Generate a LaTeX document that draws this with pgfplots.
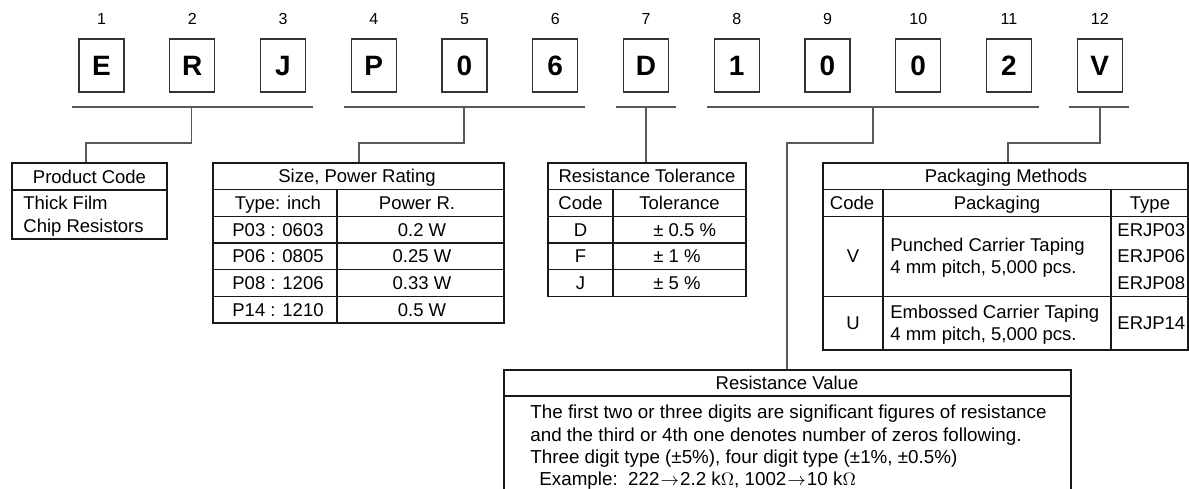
\documentclass[border=0pt]{standalone}
\usepackage{fontspec}
\setmainfont{Liberation Sans}
\usepackage{pgfplots}
\pgfplotsset{compat=1.18}
\pgfplotsset{
  tb/.style={black!90, line width=0.65pt, mark=none, line cap=rect, line join=miter},
  bx/.style={black!80, line width=0.65pt, mark=none, line cap=rect, line join=miter},
  cn/.style={black!65, line width=0.65pt, mark=none},
}
\newcommand{\tf}{\fontsize{9.25pt}{11pt}\selectfont}
\newcommand{\rf}{\fontsize{9.4pt}{11pt}\selectfont}
\newcommand{\nf}{\fontsize{8pt}{10pt}\selectfont}
\newcommand{\bigf}{\fontsize{14pt}{16pt}\selectfont\bfseries}
\newcommand{\ar}{\kern0.5pt$\rightarrow$\kern0.5pt}
\begin{document}
\begin{tikzpicture}
\begin{axis}[width=594.5pt,height=244pt,scale only axis,
  xmin=0,xmax=1189,ymin=0,ymax=488,y dir=reverse,
  hide axis,clip=false]
\addplot[draw=none] coordinates {(0,0) (1189,488)};
% code boxes
\addplot[bx] coordinates {(79,39) (124,39) (124,92) (79,92) (79,39)};
\addplot[bx] coordinates {(169.75,39) (214.75,39) (214.75,92) (169.75,92) (169.75,39)};
\addplot[bx] coordinates {(260.5,39) (305.5,39) (305.5,92) (260.5,92) (260.5,39)};
\addplot[bx] coordinates {(351.25,39) (396.25,39) (396.25,92) (351.25,92) (351.25,39)};
\addplot[bx] coordinates {(442,39) (487,39) (487,92) (442,92) (442,39)};
\addplot[bx] coordinates {(532.75,39) (577.75,39) (577.75,92) (532.75,92) (532.75,39)};
\addplot[bx] coordinates {(623.5,39) (668.5,39) (668.5,92) (623.5,92) (623.5,39)};
\addplot[bx] coordinates {(714.25,39) (759.25,39) (759.25,92) (714.25,92) (714.25,39)};
\addplot[bx] coordinates {(805,39) (850,39) (850,92) (805,92) (805,39)};
\addplot[bx] coordinates {(895.75,39) (940.75,39) (940.75,92) (895.75,92) (895.75,39)};
\addplot[bx] coordinates {(986.5,39) (1031.5,39) (1031.5,92) (986.5,92) (986.5,39)};
\addplot[bx] coordinates {(1077.25,39) (1122.25,39) (1122.25,92) (1077.25,92) (1077.25,39)};
% brackets and connectors
\addplot[cn] coordinates {(72,107) (313,107)};
\addplot[cn] coordinates {(191.5,107) (191.5,143) (86,143) (86,163)};
\addplot[cn] coordinates {(344,107) (585,107)};
\addplot[cn] coordinates {(464,107) (464,143) (359,143) (359,163)};
\addplot[cn] coordinates {(616,107) (676,107)};
\addplot[cn] coordinates {(646,107) (646,163)};
\addplot[cn] coordinates {(707,107) (1039,107)};
\addplot[cn] coordinates {(873,107) (873,143) (787,143) (787,370)};
\addplot[cn] coordinates {(1069,107) (1129,107)};
\addplot[cn] coordinates {(1100,107) (1100,143) (1008,143) (1008,163)};
% product code box
\addplot[tb] coordinates {(12,163) (167,163) (167,239) (12,239) (12,163)};
\addplot[tb] coordinates {(12,190) (167,190)};
% size table
\addplot[tb] coordinates {(213,163) (504,163) (504,323) (213,323) (213,163)};
\addplot[tb] coordinates {(213,189.7) (504,189.7)};
\addplot[tb] coordinates {(213,216.3) (504,216.3)};
\addplot[tb] coordinates {(213,243) (504,243)};
\addplot[tb] coordinates {(213,269.7) (504,269.7)};
\addplot[tb] coordinates {(213,296.3) (504,296.3)};
\addplot[tb] coordinates {(337,189.7) (337,323)};
% tolerance table
\addplot[tb] coordinates {(548,163) (746,163) (746,296.3) (548,296.3) (548,163)};
\addplot[tb] coordinates {(548,189.7) (746,189.7)};
\addplot[tb] coordinates {(548,216.3) (746,216.3)};
\addplot[tb] coordinates {(548,243) (746,243)};
\addplot[tb] coordinates {(548,269.7) (746,269.7)};
\addplot[tb] coordinates {(613,189.7) (613,296.3)};
% packaging table
\addplot[tb] coordinates {(823,163) (1188,163) (1188,350) (823,350) (823,163)};
\addplot[tb] coordinates {(823,189.7) (1188,189.7)};
\addplot[tb] coordinates {(823,216.3) (1188,216.3)};
\addplot[tb] coordinates {(823,296.3) (1188,296.3)};
\addplot[tb] coordinates {(883,189.7) (883,350)};
\addplot[tb] coordinates {(1111,189.7) (1111,350)};
% resistance value box
\addplot[tb] coordinates {(504,488) (504,370) (1071,370) (1071,488)};
\addplot[tb] coordinates {(504,396) (1071,396)};

% numbers
\node[anchor=base,font=\nf] at (axis cs:101.5,24.7) {1};
\node[anchor=base,font=\nf] at (axis cs:192.25,24.7) {2};
\node[anchor=base,font=\nf] at (axis cs:283,24.7) {3};
\node[anchor=base,font=\nf] at (axis cs:373.75,24.7) {4};
\node[anchor=base,font=\nf] at (axis cs:464.5,24.7) {5};
\node[anchor=base,font=\nf] at (axis cs:555.25,24.7) {6};
\node[anchor=base,font=\nf] at (axis cs:646,24.7) {7};
\node[anchor=base,font=\nf] at (axis cs:736.75,24.7) {8};
\node[anchor=base,font=\nf] at (axis cs:827.5,24.7) {9};
\node[anchor=base,font=\nf] at (axis cs:918.25,24.7) {10};
\node[anchor=base,font=\nf] at (axis cs:1009,24.7) {11};
\node[anchor=base,font=\nf] at (axis cs:1099.75,24.7) {12};
% code letters
\node[anchor=base,font=\bigf] at (axis cs:101.5,75.5) {E};
\node[anchor=base,font=\bigf] at (axis cs:192.25,75.5) {R};
\node[anchor=base,font=\bigf] at (axis cs:283,75.5) {J};
\node[anchor=base,font=\bigf] at (axis cs:373.75,75.5) {P};
\node[anchor=base,font=\bigf] at (axis cs:464.5,75.5) {0};
\node[anchor=base,font=\bigf] at (axis cs:555.25,75.5) {6};
\node[anchor=base,font=\bigf] at (axis cs:646,75.5) {D};
\node[anchor=base,font=\bigf] at (axis cs:736.75,75.5) {1};
\node[anchor=base,font=\bigf] at (axis cs:827.5,75.5) {0};
\node[anchor=base,font=\bigf] at (axis cs:918.25,75.5) {0};
\node[anchor=base,font=\bigf] at (axis cs:1009,75.5) {2};
\node[anchor=base,font=\bigf] at (axis cs:1099.75,75.5) {V};
% product code
\node[anchor=base,font=\tf] at (axis cs:89.5,183) {Product Code};
\node[anchor=base west,font=\tf,inner sep=0pt] at (axis cs:23,209.6) {Thick Film};
\node[anchor=base west,font=\tf,inner sep=0pt] at (axis cs:23,232.6) {Chip Resistors};
% size table
\node[anchor=base,font=\tf] at (axis cs:357,182.9) {Size, Power Rating};
\node[anchor=base,font=\tf] at (axis cs:278,209.6) {Type: inch};
\node[anchor=base,font=\tf] at (axis cs:278,236.3) {P03 : 0603};
\node[anchor=base,font=\tf] at (axis cs:278,262.9) {P06 : 0805};
\node[anchor=base,font=\tf] at (axis cs:278,289.6) {P08 : 1206};
\node[anchor=base,font=\tf] at (axis cs:278,316.3) {P14 : 1210};
\node[anchor=base,font=\tf] at (axis cs:417,209.6) {Power R.};
\node[anchor=base,font=\tf] at (axis cs:422,236.3) {0.2 W};
\node[anchor=base,font=\tf] at (axis cs:422,262.9) {0.25 W};
\node[anchor=base,font=\tf] at (axis cs:422,289.6) {0.33 W};
\node[anchor=base,font=\tf] at (axis cs:422,316.3) {0.5 W};
% tolerance table
\node[anchor=base,font=\tf] at (axis cs:647,182.9) {Resistance Tolerance};
\node[anchor=base,font=\tf] at (axis cs:580.5,209.6) {Code};
\node[anchor=base,font=\tf] at (axis cs:679.5,209.6) {Tolerance};
\node[anchor=base,font=\tf] at (axis cs:580.5,236.3) {D};
\node[anchor=base,font=\tf] at (axis cs:580.5,262.9) {F};
\node[anchor=base,font=\tf] at (axis cs:580.5,289.6) {J};
\node[anchor=base west,font=\tf,inner sep=0pt] at (axis cs:653,236.3) {± 0.5 \%};
\node[anchor=base west,font=\tf,inner sep=0pt] at (axis cs:653,262.9) {± 1 \%};
\node[anchor=base west,font=\tf,inner sep=0pt] at (axis cs:653,289.6) {± 5 \%};
% packaging table
\node[anchor=base,font=\tf] at (axis cs:1006,182.9) {Packaging Methods};
\node[anchor=base,font=\tf] at (axis cs:852,209.6) {Code};
\node[anchor=base,font=\tf] at (axis cs:997,209.6) {Packaging};
\node[anchor=base,font=\tf] at (axis cs:1150,209.6) {Type};
\node[anchor=base,font=\tf] at (axis cs:853,262.9) {V};
\node[anchor=base west,font=\tf,inner sep=0pt] at (axis cs:890,251.9) {Punched Carrier Taping};
\node[anchor=base west,font=\tf,inner sep=0pt] at (axis cs:890,273.9) {4 mm pitch, 5,000 pcs.};
\node[anchor=base west,font=\tf,inner sep=0pt] at (axis cs:1117,236.3) {ERJP03};
\node[anchor=base west,font=\tf,inner sep=0pt] at (axis cs:1117,262.9) {ERJP06};
\node[anchor=base west,font=\tf,inner sep=0pt] at (axis cs:1117,289.6) {ERJP08};
\node[anchor=base,font=\tf] at (axis cs:853,329.8) {U};
\node[anchor=base west,font=\tf,inner sep=0pt] at (axis cs:890,318.8) {Embossed Carrier Taping};
\node[anchor=base west,font=\tf,inner sep=0pt] at (axis cs:890,340.8) {4 mm pitch, 5,000 pcs.};
\node[anchor=base west,font=\tf,inner sep=0pt] at (axis cs:1117,329.8) {ERJP14};
% resistance value
\node[anchor=base,font=\tf] at (axis cs:787,389.6) {Resistance Value};
\node[anchor=base west,font=\rf,inner sep=0pt] at (axis cs:530,418.6) {The first two or three digits are significant figures of resistance};
\node[anchor=base west,font=\rf,inner sep=0pt] at (axis cs:530,441.1) {and the third or 4th one denotes number of zeros following.};
\node[anchor=base west,font=\rf,inner sep=0pt] at (axis cs:530,463.6) {Three digit type (±5\%), four digit type (±1\%, ±0.5\%)};
\node[anchor=base west,font=\rf,inner sep=0pt] at (axis cs:539,485) {Example:\ \ 222\ar2.2 k$\Omega$, 1002\ar10 k$\Omega$};
\end{axis}
\end{tikzpicture}
\end{document}
